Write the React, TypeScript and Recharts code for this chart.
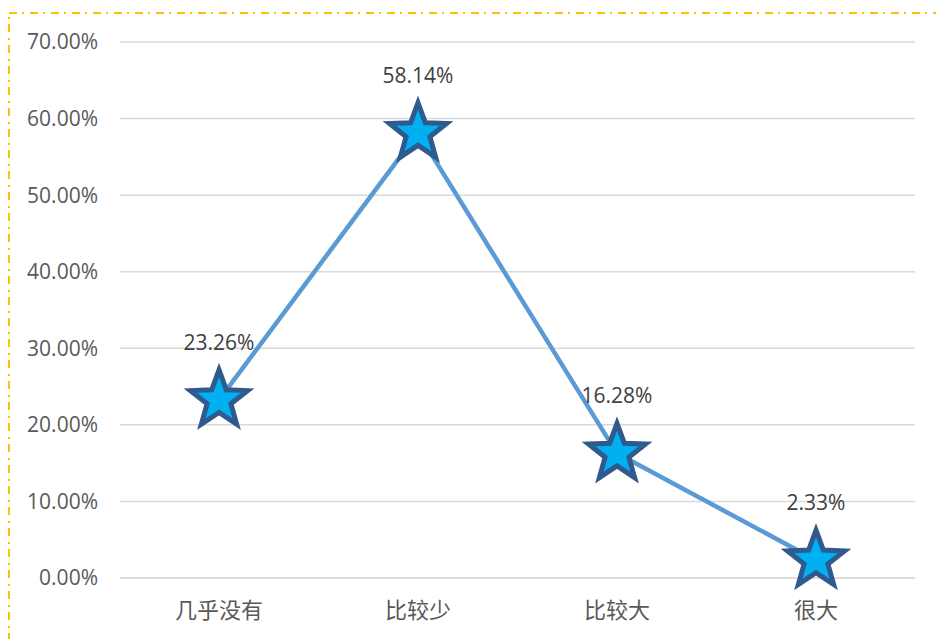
import React from 'react';
import { LineChart, Line, XAxis, YAxis, CartesianGrid, LabelList } from 'recharts';

const categories = ['几乎没有', '比较少', '比较大', '很大'];
const values = [23.26, 58.14, 16.28, 2.33];
const yTicks = [0, 10, 20, 30, 40, 50, 60, 70];

const data = categories.map((name, i) => ({ name, value: values[i] }));

const NUM_FONT = '"Open Sans", "Noto Sans", sans-serif';
const CJK_FONT = '"Noto Sans CJK SC", sans-serif';

function starPoints(cx: number, cy: number, R: number, r: number) {
  const pts: string[] = [];
  for (let i = 0; i < 10; i++) {
    const rad = i % 2 === 0 ? R : r;
    const a = -Math.PI / 2 + (i * Math.PI) / 5;
    pts.push(`${cx + rad * Math.cos(a)},${cy + rad * Math.sin(a)}`);
  }
  return pts.join(' ');
}

const StarDot = (props: any) => {
  const { cx, cy, index } = props;
  if (cx == null || cy == null) return null;
  return (
    <polygon
      key={`star-${index}`}
      points={starPoints(cx, cy, 30, 12.5)}
      fill="#00B0F0"
      stroke="#2F5A8E"
      strokeWidth={5}
      strokeLinejoin="miter"
    />
  );
};

const ValueLabel = (props: any) => {
  const { x, y, value } = props;
  return (
    <text
      x={x}
      y={y - 50}
      textAnchor="middle"
      fill="#404040"
      fontSize={21}
      fontFamily={NUM_FONT}
    >
      {`${Number(value).toFixed(2)}%`}
    </text>
  );
};

export default function App() {
  return (
    <div style={{ position: 'absolute', left: 0, top: 0, width: 936, height: 639, background: '#fff', overflow: 'hidden' }}>
      <LineChart
        width={936}
        height={639}
        data={data}
        margin={{ top: 42, right: 21, bottom: 31, left: 0 }}
      >
        <CartesianGrid horizontal vertical={false} stroke="#D9D9D9" strokeWidth={1.5} />
        <XAxis
          dataKey="name"
          axisLine={{ stroke: '#D9D9D9', strokeWidth: 1.5 }}
          tickLine={false}
          tickMargin={18}
          height={30}
          padding={{ left: 99, right: 99 }}
          tick={{ fill: '#595959', fontSize: 22, fontFamily: CJK_FONT }}
          interval={0}
        />
        <YAxis
          domain={[0, 70]}
          ticks={yTicks}
          width={120}
          axisLine={false}
          tickLine={false}
          tickSize={6}
          tickMargin={16}
          tickFormatter={(v: number) => `${v.toFixed(2)}%`}
          tick={{ fill: '#595959', fontSize: 21, fontFamily: NUM_FONT }}
          interval={0}
        />
        <Line
          type="linear"
          dataKey="value"
          stroke="#5B9BD5"
          strokeWidth={4.5}
          dot={<StarDot />}
          activeDot={false}
          isAnimationActive={false}
        >
          <LabelList dataKey="value" content={<ValueLabel />} />
        </Line>
      </LineChart>
      <svg
        width={936}
        height={639}
        style={{ position: 'absolute', left: 0, top: 0, pointerEvents: 'none' }}
      >
        <rect
          x={9}
          y={13}
          width={1000}
          height={700}
          fill="none"
          stroke="#FFC000"
          strokeWidth={2}
          strokeDasharray="8 5 2 6"
        />
      </svg>
    </div>
  );
}
